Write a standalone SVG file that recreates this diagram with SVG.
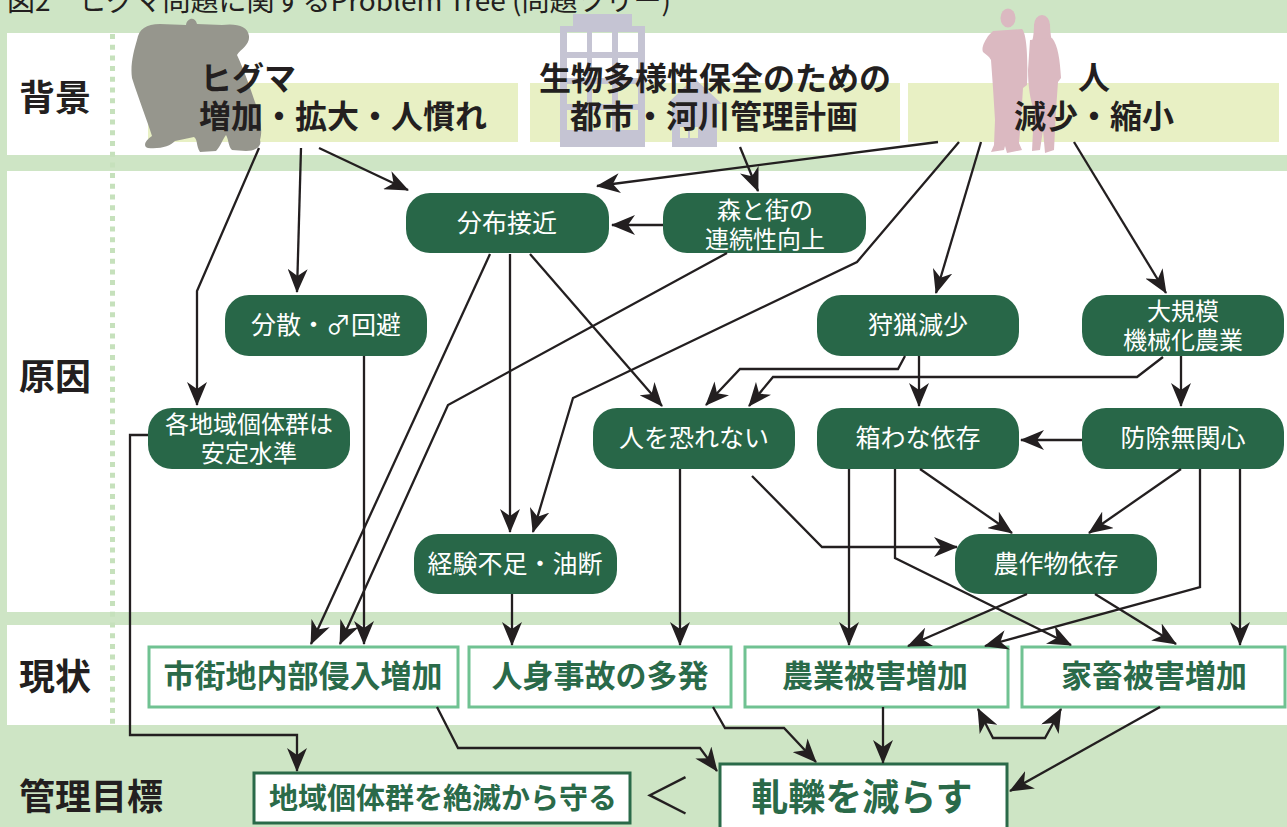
<svg xmlns="http://www.w3.org/2000/svg" width="1287" height="827" viewBox="0 0 1287 827">
  <style>
    .jp{font-family:'Noto Sans CJK JP','Noto Sans CJK SC',sans-serif}
    .lbl{font-weight:700;font-size:36px;fill:#231f20}
    .htxt{font-weight:700;font-size:32px;fill:#231f20}
    .node rect{fill:#286748}
    .node text{fill:#ffffff;font-size:25px;font-weight:400;text-anchor:middle}
    .node text.two{font-size:24px}
    .st rect{fill:#ffffff;stroke:#70c292;stroke-width:3}
    .st text{fill:#2a6a49;font-weight:700;font-size:31px;text-anchor:middle}
    .goal rect{fill:#ffffff;stroke:#2a6a49;stroke-width:3}
    .goal text{fill:#2a6a49;font-weight:700;text-anchor:middle}
    .c{fill:none;stroke:#231f20;stroke-width:2.3;stroke-linejoin:miter;marker-end:url(#ah)}
  </style>
  <defs>
    <marker id="ah" viewBox="0 0 24 20" refX="23" refY="10" markerWidth="24" markerHeight="20" markerUnits="userSpaceOnUse" orient="auto-start-reverse">
      <path d="M0,0 L24,10 L0,20 L7,10 Z" fill="#231f20"/>
    </marker>
  </defs>

  <!-- page background and row bands -->
  <rect x="0" y="0" width="1287" height="827" fill="#cee5c5"/>
  <rect x="7" y="33" width="1280" height="122" fill="#ffffff"/>
  <rect x="7" y="171" width="1280" height="441" fill="#ffffff"/>
  <rect x="7" y="625" width="1280" height="100" fill="#ffffff"/>
  <line x1="112.5" y1="34" x2="112.5" y2="725" stroke="#c6e1bc" stroke-width="5" stroke-dasharray="5 5.7"/>

  <!-- caption -->
  <text class="jp" x="7" y="11" font-size="28" fill="#231f20">図2　ヒグマ問題に関するProblem Tree (問題ツリー)</text>

  <!-- row labels -->
  <text class="jp lbl" x="19" y="111">背景</text>
  <text class="jp lbl" x="19" y="390">原因</text>
  <text class="jp lbl" x="19" y="690">現状</text>
  <text class="jp lbl" x="19" y="810">管理目標</text>

  <!-- background header boxes -->
  <g id="bg-bear">
    <rect x="148" y="83" width="370" height="59" fill="#e8f0c4"/>
    <path fill="#96968d" d="M137,40 C139,29 146,24 160,24 L186,25 C187,18 195,16 197,24 L222,25 C236,23 248,26 249,36 C250,45 241,49 237,55 C244,70 251,90 256,105 C260,118 263,130 260,140 C262,146 256,151 246,151 L232,150 C228,146 229,140 226,135 C222,140 221,146 216,151 L200,152 C196,146 198,140 194,137 L175,141 C170,146 162,149 148,148 C142,146 146,140 152,136 C147,120 139,100 132,78 C130,65 134,50 137,40 Z"/>
    <text class="jp htxt" x="200" y="90">ヒグマ</text>
    <text class="jp htxt" x="199" y="128">増加・拡大・人慣れ</text>
  </g>
  <g id="bg-plan">
    <rect x="530" y="83" width="370" height="59" fill="#e8f0c4"/>
    <path fill="#c5c4d3" fill-rule="evenodd" d="M573,14 H632 V26 H645 V147 H560 V26 H573 Z
      M567,32 h20 v20 h-20 Z M592,32 h20 v20 h-20 Z M618,32 h20 v20 h-20 Z
      M567,58 h20 v20 h-20 Z M592,58 h20 v20 h-20 Z M618,58 h20 v20 h-20 Z
      M567,84 h20 v20 h-20 Z M592,84 h20 v20 h-20 Z M618,84 h20 v20 h-20 Z
      M567,110 h20 v20 h-20 Z M592,110 h20 v20 h-20 Z M618,110 h20 v20 h-20 Z
      M667,104 L694,78 L722,104 L717,104 L717,147 L672,147 L672,104 Z
      M680,127 h8 v11 h-8 Z M690,127 h8 v11 h-8 Z"/>
    <text class="jp htxt" x="715" y="90" text-anchor="middle">生物多様性保全のための</text>
    <text class="jp htxt" x="714" y="128" text-anchor="middle">都市・河川管理計画</text>
  </g>
  <g id="bg-people">
    <rect x="908" y="83" width="371" height="59" fill="#e8f0c4"/>
    <g fill="#dbb9c1">
      <ellipse cx="1008" cy="18" rx="7.5" ry="9.5"/>
      <path d="M993,31 L1022,29 C1027,34 1028,60 1027,85 L1023,88 L1021,120 L1019,143 L1022,150 L1007,153 L1005,146 L1004,150 L991,152 L994,145 L995,120 L993,88 L991,60 C989,56 985,54 983,52 C981,48 985,40 989,35 Z"/>
      <ellipse cx="1042" cy="25" rx="8" ry="10"/>
      <path d="M1034,24 C1034,40 1031,44 1030,46 L1054,46 C1051,40 1050,32 1050,24 Z"/>
      <path d="M1030,40 L1052,38 C1058,45 1060,60 1061,78 L1058,82 L1056,110 L1054,150 L1045,153 L1043,130 L1040,150 L1032,151 L1034,110 C1030,100 1028,85 1028,70 Z"/>
    </g>
    <text class="jp htxt" x="1094" y="89" text-anchor="middle">人</text>
    <text class="jp htxt" x="1094" y="128" text-anchor="middle">減少・縮小</text>
  </g>

  <!-- cause nodes -->
  <g id="n-bunpu" class="node jp"><rect x="406" y="193" width="203" height="60" rx="24"/><text x="507" y="232">分布接近</text></g>
  <g id="n-mori" class="node jp"><rect x="663" y="193" width="203" height="60" rx="24"/><text class="two" x="765" y="219">森と街の</text><text class="two" x="765" y="248">連続性向上</text></g>
  <g id="n-bunsan" class="node jp"><rect x="225" y="295" width="202" height="61" rx="24"/><text x="326" y="334">分散・♂回避</text></g>
  <g id="n-kakuchiiki" class="node jp"><rect x="148" y="408" width="202" height="61" rx="24"/><text class="two" x="249" y="433">各地域個体群は</text><text class="two" x="249" y="462">安定水準</text></g>
  <g id="n-hito" class="node jp"><rect x="593" y="408" width="202" height="61" rx="24"/><text x="694" y="447">人を恐れない</text></g>
  <g id="n-shuryo" class="node jp"><rect x="817" y="295" width="202" height="61" rx="24"/><text x="918" y="334">狩猟減少</text></g>
  <g id="n-daikibo" class="node jp"><rect x="1082" y="295" width="202" height="61" rx="24"/><text class="two" x="1183" y="320">大規模</text><text class="two" x="1183" y="349">機械化農業</text></g>
  <g id="n-hakowana" class="node jp"><rect x="817" y="408" width="202" height="61" rx="24"/><text x="918" y="447">箱わな依存</text></g>
  <g id="n-bojo" class="node jp"><rect x="1082" y="408" width="202" height="61" rx="24"/><text x="1183" y="447">防除無関心</text></g>
  <g id="n-keiken" class="node jp"><rect x="414" y="534" width="203" height="60" rx="24"/><text x="515" y="573">経験不足・油断</text></g>
  <g id="n-nosakumotsu" class="node jp"><rect x="955" y="534" width="202" height="60" rx="24"/><text x="1056" y="573">農作物依存</text></g>

  <!-- current state boxes -->
  <g id="s-shigaichi" class="st jp"><rect x="149" y="647" width="309" height="60"/><text x="303" y="687">市街地内部侵入増加</text></g>
  <g id="s-jinshin" class="st jp"><rect x="469" y="647" width="262" height="60"/><text x="600" y="687">人身事故の多発</text></g>
  <g id="s-nogyo" class="st jp"><rect x="745" y="647" width="263" height="60"/><text x="875" y="687">農業被害増加</text></g>
  <g id="s-kachiku" class="st jp"><rect x="1022" y="647" width="263" height="60"/><text x="1154" y="687">家畜被害増加</text></g>

  <!-- management goals -->
  <g id="g-zetsumetsu" class="goal jp"><rect x="254" y="773" width="376" height="50"/><text x="443" y="809" font-size="29">地域個体群を絶滅から守る</text></g>
  <text id="g-compare" class="jp" x="667" y="814" font-size="50" font-weight="300" fill="#231f20" text-anchor="middle">＜</text>
  <g id="g-atsureki" class="goal jp"><rect x="720" y="764" width="287" height="70"/><text x="862" y="811" font-size="37">軋轢を減らす</text></g>

  <!-- connectors -->
  <g id="connectors">
    <path class="c" d="M259,148 L197,291 L197,405"/>
    <path class="c" d="M301,148 L297,292"/>
    <path class="c" d="M319,148 L408,190"/>
    <path class="c" d="M938,142 L597,186"/>
    <path class="c" d="M959,142 L857,262 L573,398 L533,532"/>
    <path class="c" d="M981,142 L936,293"/>
    <path class="c" d="M1074,142 L1166,293"/>
    <path class="c" d="M740,147 L758,191"/>
    <path class="c" d="M663,225 L612,225"/>
    <path class="c" d="M490,254 L311,644"/>
    <path class="c" d="M510,254 L510,532"/>
    <path class="c" d="M530,254 L662,406"/>
    <path class="c" d="M727,253 L448,405 L340,644"/>
    <path class="c" d="M364,356 L364,644"/>
    <path class="c" d="M905,356 L898,369 L740,369 L706,405"/>
    <path class="c" d="M919,356 L919,406"/>
    <path class="c" d="M1163,357 L1137,377 L773,377 L749,406"/>
    <path class="c" d="M1181,356 L1181,406"/>
    <path class="c" d="M1082,440 L1021,440"/>
    <path class="c" d="M680,469 L680,645"/>
    <path class="c" d="M752,476 L822,547 L957,547"/>
    <path class="c" d="M849,469 L849,645"/>
    <path class="c" d="M895,469 L895,558 L1071,645"/>
    <path class="c" d="M920,469 L1012,533"/>
    <path class="c" d="M1181,469 L1089,533"/>
    <path class="c" d="M1200,469 L1200,587 L985,646"/>
    <path class="c" d="M1240,469 L1240,645"/>
    <path class="c" d="M1027,594 L908,646"/>
    <path class="c" d="M1095,594 L1176,644"/>
    <path class="c" d="M148,435 L130,435 L130,735 L297,735 L297,771"/>
    <path class="c" d="M512,594 L512,645"/>
    <path class="c" d="M437,707 L458,748 L700,748 L717,771"/>
    <path class="c" d="M713,707 L725,728 L784,728 L816,762"/>
    <path class="c" d="M883,707 L883,763"/>
    <path class="c" d="M978,709 L993,738 L1045,738 L1061,709" marker-start="url(#ah)"/>
    <path class="c" d="M1160,707 L1010,791"/>
  </g>
</svg>
